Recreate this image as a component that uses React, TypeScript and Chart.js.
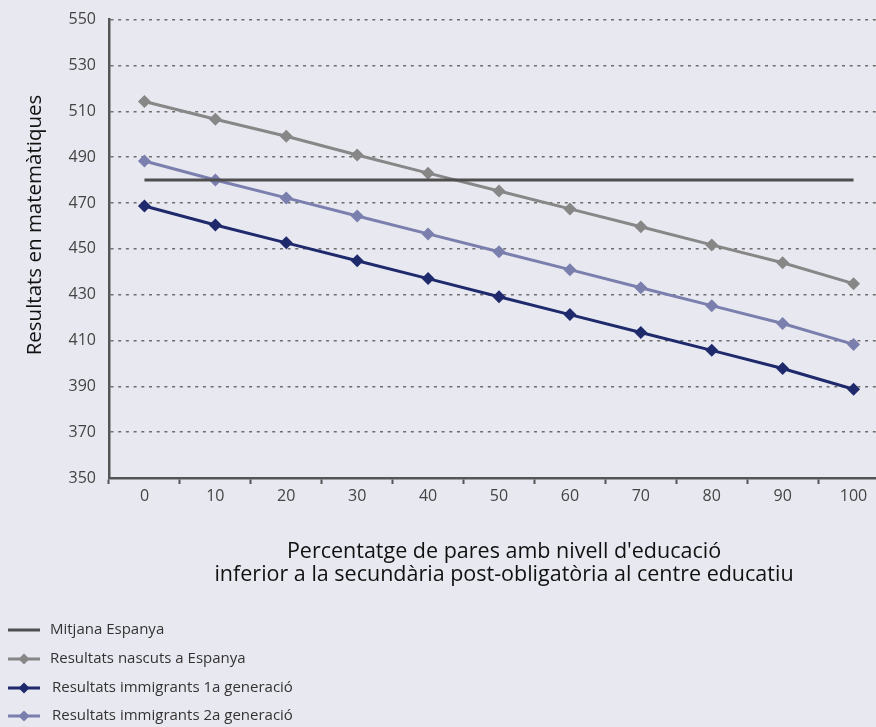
import React, { useEffect, useRef } from "react";
import { Chart, registerables } from "chart.js";

Chart.register(...registerables);

const categories = ["0", "10", "20", "30", "40", "50", "60", "70", "80", "90", "100"];
const mitjanaEspanya = [480, 480, 480, 480, 480, 480, 480, 480, 480, 480, 480];
const nascutsEspanya = [514.3, 506.5, 499.1, 490.9, 483.0, 475.2, 467.4, 459.6, 451.7, 443.9, 434.8];
const immigrants1a = [468.7, 460.4, 452.6, 444.8, 437.0, 429.1, 421.3, 413.5, 405.7, 397.8, 388.7];
const immigrants2a = [488.3, 480.0, 472.2, 464.3, 456.5, 448.7, 440.9, 433.0, 425.2, 417.4, 408.3];

const seriesLabels = [
  "Mitjana Espanya",
  "Resultats nascuts a Espanya",
  "Resultats immigrants 1a generació",
  "Resultats immigrants 2a generació",
];
const yTitle = "Resultats en matemàtiques";
const xTitle = [
  "Percentatge de pares amb nivell d'educació",
  "inferior a la secundària post-obligatòria al centre educatiu",
];

const FONT = "'Open Sans', 'Noto Sans', sans-serif";
const BG = "#e8e8f0";
const SHIFT = 3; // canvas is raised by this many pixels

const legendPlugin = {
  id: "vertLegend",
  afterDraw(chart: any) {
    const ctx = chart.ctx;
    const rows = [630, 659, 688, 716];
    ctx.save();
    ctx.translate(0, SHIFT);
    chart.data.datasets.forEach((ds: any, i: number) => {
      const y = rows[i];
      ctx.strokeStyle = ds.borderColor;
      ctx.lineWidth = 3;
      ctx.beginPath();
      ctx.moveTo(8, y);
      ctx.lineTo(40, y);
      ctx.stroke();
      if (ds.pointRadius > 0) {
        ctx.fillStyle = ds.borderColor;
        ctx.beginPath();
        ctx.moveTo(24, y - 5.5);
        ctx.lineTo(29.5, y);
        ctx.lineTo(24, y + 5.5);
        ctx.lineTo(18.5, y);
        ctx.closePath();
        ctx.fill();
      }
      ctx.fillStyle = "#333333";
      ctx.font = `15px ${FONT}`;
      ctx.textBaseline = "middle";
      ctx.textAlign = "left";
      ctx.fillText(ds.label, i >= 2 ? 52 : 50, y);
    });
    // x axis title
    ctx.fillStyle = "#111111";
    ctx.font = `21.5px ${FONT}`;
    ctx.textAlign = "center";
    ctx.textBaseline = "middle";
    ctx.fillText(xTitle[0], 504, 552);
    ctx.fillText(xTitle[1], 504, 575);
    // y axis title
    ctx.translate(35, 225);
    ctx.rotate(-Math.PI / 2);
    ctx.font = `20.5px ${FONT}`;
    ctx.fillText(yTitle, 0, 0);
    ctx.restore();
  },
};

export default function App() {
  const ref = useRef<HTMLCanvasElement>(null);
  useEffect(() => {
    if (!ref.current) return;
    const mk = (label: string, data: number[], color: string, marker: boolean) => ({
      label,
      data,
      borderColor: color,
      backgroundColor: color,
      borderWidth: 3,
      pointStyle: "rectRot",
      pointRadius: marker ? 6.5 : 0,
      pointHoverRadius: marker ? 6.5 : 0,
      pointBackgroundColor: color,
      pointBorderColor: color,
      pointBorderWidth: 0,
      tension: 0,
      fill: false,
    });
    const chart = new Chart(ref.current, {
      type: "line",
      data: {
        labels: categories,
        datasets: [
          mk(seriesLabels[0], mitjanaEspanya, "#4f4f4f", false),
          mk(seriesLabels[1], nascutsEspanya, "#878787", true),
          mk(seriesLabels[2], immigrants1a, "#1f2a6c", true),
          mk(seriesLabels[3], immigrants2a, "#7a7fae", true),
        ],
      },
      options: {
        responsive: false,
        animation: false,
        devicePixelRatio: 1,
        layout: { padding: { left: 0, top: 15, right: 11, bottom: 0 } },
        plugins: { legend: { display: false }, tooltip: { enabled: false } },
        scales: {
          x: {
            type: "category",
            offset: true,
            afterFit: (s: any) => {
              s.height = 249;
            },
            grid: {
              offset: true,
              drawOnChartArea: false,
              drawTicks: true,
              tickLength: 6,
              tickColor: "#555555",
              tickWidth: 2,
            },
            border: { display: true, color: "#555555", width: 2.5 },
            ticks: {
              color: "#444444",
              font: { family: FONT, size: 16 },
              padding: 3,
              maxRotation: 0,
            },
          },
          y: {
            min: 350,
            max: 550,
            afterFit: (s: any) => {
              s.width = 109;
            },
            ticks: {
              stepSize: 20,
              color: "#444444",
              font: { family: FONT, size: 16 },
              padding: 13,
            },
            grid: {
              drawTicks: false,
              color: "#6e6e6e",
              lineWidth: 1.5,
            },
            border: { display: true, color: "#555555", width: 2.5, dash: [3, 4.7] },
          },
        },
      },
      plugins: [legendPlugin],
    } as any);
    return () => chart.destroy();
  }, []);
  return (
    <div
      style={{
        position: "fixed",
        left: 0,
        top: 0,
        width: 876,
        height: 727,
        overflow: "hidden",
        background: BG,
      }}
    >
      <canvas
        ref={ref}
        width={900}
        height={727 + SHIFT}
        style={{ display: "block", marginTop: -SHIFT }}
      />
    </div>
  );
}
